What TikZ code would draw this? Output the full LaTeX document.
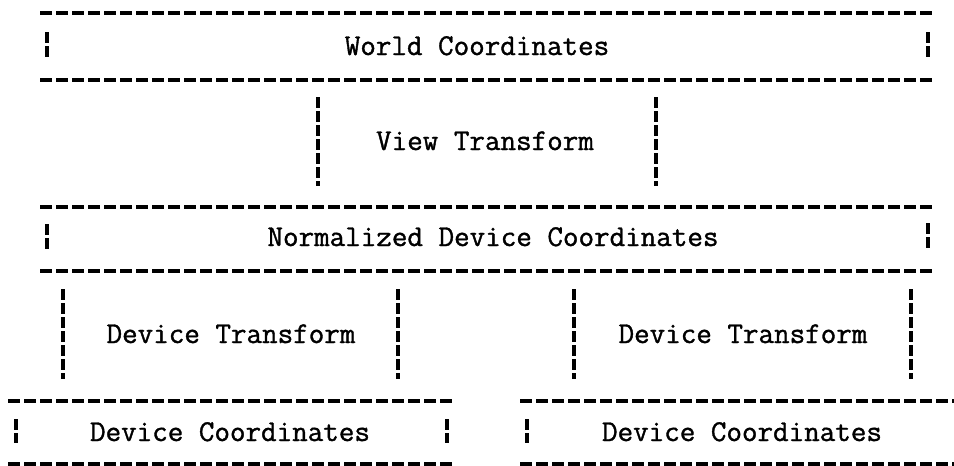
\documentclass[tikz,border=0pt]{standalone}
\usepackage{fontspec}
\newfontfamily\typerfont[FakeBold=1.2]{Latin Modern Mono}
\usetikzlibrary{positioning}

\tikzset{
  rule/.style={line width=1.6pt, dash pattern=on 6pt off 2pt},
  bar/.style={line width=1.6pt, dash pattern=on 5.5pt off 1.5pt},
  lbl/.style={font=\fontsize{15.1}{18}\selectfont\typerfont, anchor=base, inner sep=0pt}
}

\begin{document}
\begin{tikzpicture}[x=0.5pt,y=-0.5pt]
\useasboundingbox (0,0) rectangle (954,466);

% world coordinates
\draw[rule] (40,13) -- (932,13);
\draw[bar] (47,32) -- (47,57);
\draw[bar] (928,32) -- (928,57);
\node[lbl] (wc) at (477,55) {World Coordinates};
\draw[rule] (40,80) -- (932,80);

% view transform
\draw[bar] (318,97) -- (318,186);
\draw[bar] (656,97) -- (656,186);
\node[lbl] (vt) at (485,150) {View Transform};

% normalized device coordinates
\draw[rule] (40,207) -- (932,207);
\draw[bar] (47,224) -- (47,249);
\draw[bar] (928,223) -- (928,248);
\node[lbl] (ndc) at (493,246) {Normalized Device Coordinates};
\draw[rule] (40,271) -- (932,271);

% device transforms
\draw[bar] (63,289) -- (63,379);
\draw[bar] (398,289) -- (398,379);
\node[lbl] (dtl) at (231,343) {Device Transform};
\draw[bar] (574,289) -- (574,379);
\draw[bar] (911,289) -- (911,379);
\node[lbl] (dtr) at (743,343) {Device Transform};

% device coordinates
\draw[rule] (8,401) -- (453,401);
\draw[rule] (520,401) -- (954,401);
\draw[bar] (16,419) -- (16,443);
\draw[bar] (447,419) -- (447,443);
\node[lbl] (dcl) at (230,441) {Device Coordinates};
\draw[bar] (527,419) -- (527,443);
\node[lbl] (dcr) at (742,441) {Device Coordinates};
\draw[rule] (8,464) -- (453,464);
\draw[rule] (520,464) -- (954,464);

\end{tikzpicture}
\end{document}
